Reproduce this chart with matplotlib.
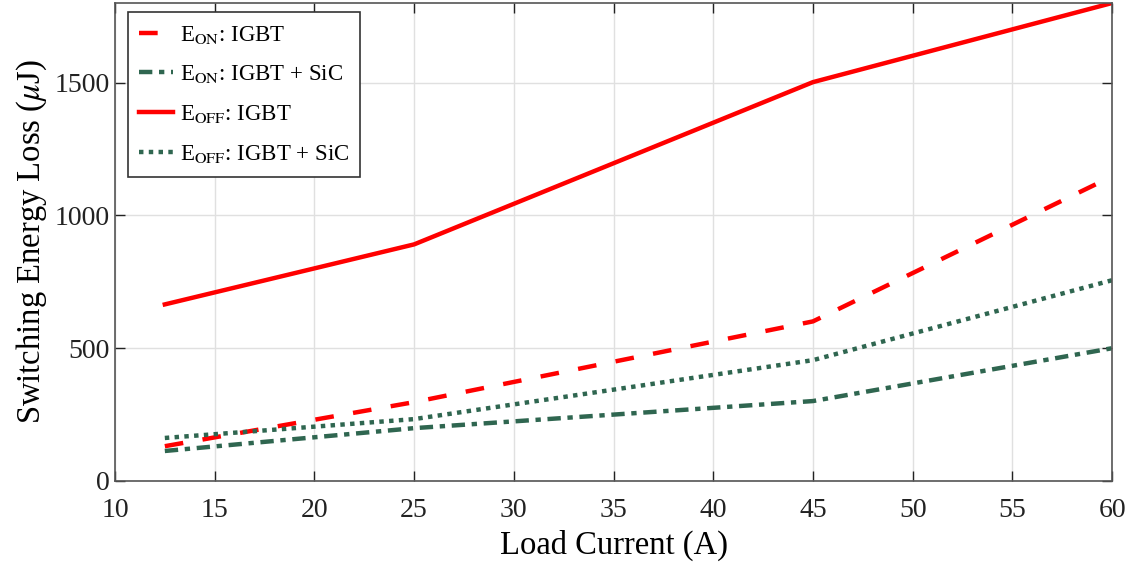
import numpy as np
from matplotlib import pyplot as plt

# Switching energy vs load current
current = [12.5, 25, 45, 60]
eon_igbt = [131, 297, 601, 1147]
eon_sic = [113, 199, 301, 500]
eoff_igbt = [665, 891, 1502, 1800]
eoff_sic = [162, 233, 455, 756]

plt.rcParams['font.family'] = ['Liberation Serif', 'DejaVu Serif']
plt.rcParams['mathtext.fontset'] = 'stix'

red = '#ff0000'
green = '#2f6650'

fig = plt.figure(figsize=(11.35, 5.67), dpi=100)
ax = fig.add_axes([0.1013, 0.1517, 0.8785, 0.8430])

ax.plot(current, eon_igbt, color=red, lw=3.2, ls=(0, (4.2, 4.4)),
        label=r'E$_{\mathrm{ON}}$: IGBT')
ax.plot(current, eon_sic, color=green, lw=3.2, ls=(0, (3, 1.5, 1.2, 1.5)),
        label=r'E$_{\mathrm{ON}}$: IGBT + SiC')
ax.plot(current, eoff_igbt, color=red, lw=3.2, ls='-',
        label=r'E$_{\mathrm{OFF}}$: IGBT')
ax.plot(current, eoff_sic, color=green, lw=3.2, ls=(0, (1, 1.2)),
        label=r'E$_{\mathrm{OFF}}$: IGBT + SiC')

ax.set_xlim(10, 60)
ax.set_ylim(0, 1800)
ax.set_xticks(np.arange(10, 61, 5))
ax.set_yticks([0, 500, 1000, 1500])
ax.grid(True, color='#e0e0e0', lw=1)
ax.set_axisbelow(True)
ax.tick_params(direction='in', top=True, right=True, length=7, width=1,
               labelsize=20, colors='#222222')
ax.tick_params(axis='x', pad=12)
ax.tick_params(axis='y', pad=4)
for s in ax.spines.values():
    s.set_color('#555555')
    s.set_linewidth(1.2)

ax.set_xlabel('Load Current (A)', fontsize=23.5, labelpad=5)
ax.set_ylabel(r'Switching Energy Loss ($\mu$J)', fontsize=23.5, labelpad=4)

leg = ax.legend(loc='upper left', fontsize=16.5, handlelength=1.45,
                handletextpad=0.3, borderpad=0.5, labelspacing=0.78,
                borderaxespad=0, fancybox=False, framealpha=1,
                edgecolor='#333333', bbox_to_anchor=(0.013, 0.981))
leg.get_frame().set_linewidth(1.2)

fig.savefig('out.png', dpi=100)
